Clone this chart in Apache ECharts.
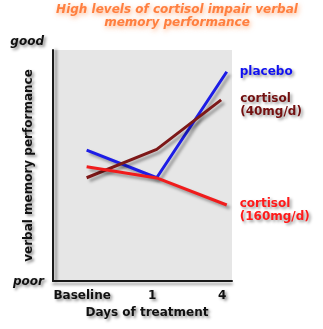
<!DOCTYPE html>
<html>
<head>
<meta charset="utf-8">
<script src="https://cdn.jsdelivr.net/npm/echarts@6/dist/echarts.min.js"></script>
<style>
  html, body { margin: 0; padding: 0; background: #ffffff; }
  #chart { width: 323px; height: 329px; }
</style>
</head>
<body>
<div id="chart"></div>
<script>
// Timepoints (0 = baseline, 1 = day 1, 2 = day 4) and tick labels
const timeTicks = [0, 1, 2];
const timeLabels = ['Baseline', '1', '4'];
const scoreTicks = [0, 100];
const scoreLabels = ['poor', 'good'];

// Verbal memory performance, 0 (poor) .. 100 (good)
const placeboX = [0, 1, 2];
const placeboY = [56.7, 44.7, 90.6];
const cortisol40X = [0, 1, 1.92];
const cortisol40Y = [44.7, 57.0, 78.4];
const cortisol160X = [0, 1, 2];
const cortisol160Y = [49.5, 44.6, 32.9];

const seriesNames = ['placebo', 'cortisol\n(40mg/d)', 'cortisol\n(160mg/d)'];
const seriesColors = ['#1d1de6', '#7d1818', '#f01c1c'];
const labelColors = ['#1010f0', '#731010', '#ff1a1a'];

const FONT = '"DejaVu Sans", Verdana, sans-serif';
const textShadow = {
  textShadowColor: 'rgba(0,0,0,0.45)',
  textShadowBlur: 3,
  textShadowOffsetX: 2,
  textShadowOffsetY: 2
};

function pairs(xs, ys) {
  return xs.map((x, i) => [x, ys[i]]);
}

const seriesData = [
  pairs(placeboX, placeboY),
  pairs(cortisol40X, cortisol40Y),
  pairs(cortisol160X, cortisol160Y)
];
const endOffsets = [[13, 0], [19, 5], [13, 5]];

const chart = echarts.init(document.getElementById('chart'), null, { renderer: 'canvas' });

chart.setOption({
  animation: false,
  backgroundColor: '#ffffff',
  title: {
    text: 'High levels of cortisol impair verbal\nmemory performance',
    left: 177,
    top: 3,
    padding: 0,
    textAlign: 'center',
    textStyle: {
      fontFamily: FONT,
      fontSize: 12,
      fontWeight: 'bold',
      fontStyle: 'italic',
      color: '#ff7f3f',
      lineHeight: 13,
      textShadowColor: 'rgba(255,150,90,0.75)',
      textShadowBlur: 5,
      textShadowOffsetX: 1,
      textShadowOffsetY: 2
    }
  },
  grid: {
    left: 53,
    right: 91,
    top: 50,
    bottom: 48,
    outerBoundsMode: 'none',
    containLabel: false,
    show: true,
    backgroundColor: '#e6e6e6',
    borderWidth: 0
  },
  xAxis: {
    type: 'value',
    min: -0.48,
    max: 2.075,
    name: 'Days of treatment',
    nameLocation: 'middle',
    nameGap: 26,
    nameMoveOverlap: false,
    nameTextStyle: Object.assign({
      fontFamily: FONT,
      fontSize: 12,
      fontWeight: 'bold',
      color: '#111',
      padding: [0, 0, 0, 9]
    }, textShadow),
    axisLine: {
      show: true,
      onZero: false,
      lineStyle: {
        color: '#1a1a1a',
        width: 2,
        shadowColor: 'rgba(0,0,0,0.4)',
        shadowBlur: 3,
        shadowOffsetY: 3
      }
    },
    axisTick: { show: false },
    splitLine: { show: false },
    axisLabel: {
      customValues: timeTicks,
      formatter: v => timeLabels[timeTicks.indexOf(v)],
      fontFamily: FONT,
      fontSize: 12,
      fontWeight: 'bold',
      color: '#111',
      margin: 9,
      padding: [0, 9, 0, 0],
      textShadowColor: textShadow.textShadowColor,
      textShadowBlur: textShadow.textShadowBlur,
      textShadowOffsetX: textShadow.textShadowOffsetX,
      textShadowOffsetY: textShadow.textShadowOffsetY
    }
  },
  yAxis: {
    type: 'value',
    min: 0,
    max: 100,
    name: 'verbal memory performance',
    nameLocation: 'middle',
    nameRotate: 90,
    nameGap: 18,
    nameMoveOverlap: false,
    nameTextStyle: Object.assign({
      fontFamily: FONT,
      fontSize: 12,
      fontWeight: 'bold',
      color: '#111'
    }, textShadow),
    axisLine: {
      show: true,
      onZero: false,
      lineStyle: {
        color: '#1a1a1a',
        width: 2,
        shadowColor: 'rgba(0,0,0,0.4)',
        shadowBlur: 3,
        shadowOffsetX: 3
      }
    },
    axisTick: { show: false },
    splitLine: { show: false },
    axisLabel: {
      customValues: scoreTicks,
      formatter: v => (v === 100 ? '{g|' : '{p|') + scoreLabels[scoreTicks.indexOf(v)] + '}',
      margin: 9,
      rich: {
        g: Object.assign({
          fontFamily: FONT, fontSize: 12, fontWeight: 'bold', fontStyle: 'italic',
          color: '#111', padding: [0, 0, 16, 0]
        }, textShadow),
        p: Object.assign({
          fontFamily: FONT, fontSize: 12, fontWeight: 'bold', fontStyle: 'italic',
          color: '#111', padding: [2, 0, 0, 0]
        }, textShadow)
      }
    }
  },
  series: seriesData.map((data, i) => ({
    type: 'line',
    name: seriesNames[i],
    data: data,
    symbol: 'none',
    lineStyle: {
      color: seriesColors[i],
      width: 3,
      shadowColor: 'rgba(0,0,0,0.35)',
      shadowBlur: 3,
      shadowOffsetX: 3,
      shadowOffsetY: 3
    },
    endLabel: {
      show: true,
      formatter: seriesNames[i],
      position: 'right',
      distance: 0,
      offset: endOffsets[i],
      align: 'left',
      fontFamily: FONT,
      fontSize: 12,
      fontWeight: 'bold',
      lineHeight: 13,
      color: labelColors[i],
      textShadowColor: 'rgba(0,0,0,0.4)',
      textShadowBlur: 3,
      textShadowOffsetX: 2,
      textShadowOffsetY: 2
    }
  }))
});
</script>
</body>
</html>
